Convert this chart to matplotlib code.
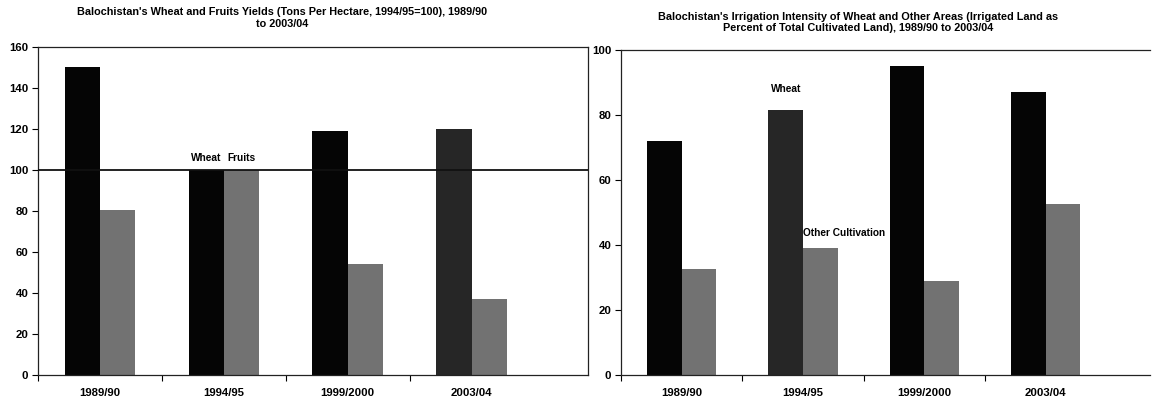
import matplotlib
matplotlib.use("Agg")
import matplotlib.pyplot as plt
import numpy as np

plt.rcParams['font.family'] = ['Liberation Sans', 'DejaVu Sans']
plt.rcParams['font.weight'] = 'bold'

years = ["1989/90", "1994/95", "1999/2000", "2003/04"]
wheat_yield = [150, 100, 119, 120]
fruits_yield = [80.5, 100, 54, 37]
wheat_irr = [72, 81.5, 95, 87]
other_irr = [32.5, 39, 29, 52.5]

left_title = "Balochistan's Wheat and Fruits Yields (Tons Per Hectare, 1994/95=100), 1989/90\nto 2003/04"
right_title = "Balochistan's Irrigation Intensity of Wheat and Other Areas (Irrigated Land as\nPercent of Total Cultivated Land), 1989/90 to 2003/04"

W, H = 1152, 398
fig = plt.figure(figsize=(W / 100, H / 100), dpi=100)

def box(l, t, r, b):
    return [l / W, (H - b) / H, (r - l) / W, (b - t) / H]

ax1 = fig.add_axes(box(38, 47, 588, 375))
ax2 = fig.add_axes(box(621, 50, 1150, 375))

x = np.arange(len(years))
bw = 0.285

def style(ax, ymax, step, xr):
    ax.set_ylim(0, ymax)
    ax.set_yticks(np.arange(0, ymax + 1, step))
    ax.set_xlim(-0.5, xr)
    ax.set_xticks(x)
    ax.set_xticklabels(years)
    ax.set_xticks(np.arange(len(years)) - 0.5, minor=True)
    ax.tick_params(axis='x', which='major', length=0, pad=9, labelsize=8.2)
    ax.tick_params(axis='x', which='minor', length=4, direction='out', width=0.8)
    ax.tick_params(axis='y', length=4, direction='out', width=0.8, labelsize=8.2, pad=3)
    for lbl in ax.get_xticklabels() + ax.get_yticklabels():
        lbl.set_fontweight('bold')
    for s in ax.spines.values():
        s.set_linewidth(0.9)
        s.set_color('#222222')

# Left chart
wc1 = ['#050505', '#050505', '#050505', '#262626']
ax1.bar(x - bw / 2, wheat_yield, bw, color=wc1, zorder=2)
ax1.bar(x + bw / 2, fruits_yield, bw, color='#727272', zorder=2)
ax1.axhline(100, color='#111111', lw=1.3, zorder=3)
style(ax1, 160, 20, 3.94)
ax1.text(x[1] - bw / 2, 106, "Wheat", ha='center', va='center', fontsize=7.3, fontweight='bold')
ax1.text(x[1] + bw / 2, 106, "Fruits", ha='center', va='center', fontsize=7.3, fontweight='bold')
fig.text(282 / W, 1 - 7 / H, left_title, ha='center', va='top', fontsize=7.8, fontweight='bold',
         linespacing=1.3)

# Right chart
wc2 = ['#050505', '#262626', '#050505', '#050505']
ax2.bar(x - bw / 2, wheat_irr, bw, color=wc2, zorder=2)
ax2.bar(x + bw / 2, other_irr, bw, color='#727272', zorder=2)
style(ax2, 100, 20, 3.86)
ax2.spines['right'].set_visible(False)
ax2.text(x[1] - bw / 2, 88, "Wheat", ha='center', va='center', fontsize=7.3, fontweight='bold')
ax2.text(x[1], 43.7, "Other Cultivation", ha='left', va='center', fontsize=7.3, fontweight='bold')
fig.text(858 / W, 1 - 12 / H, right_title, ha='center', va='top', fontsize=7.8, fontweight='bold',
         linespacing=1.15)

fig.savefig("out.png", dpi=100)
